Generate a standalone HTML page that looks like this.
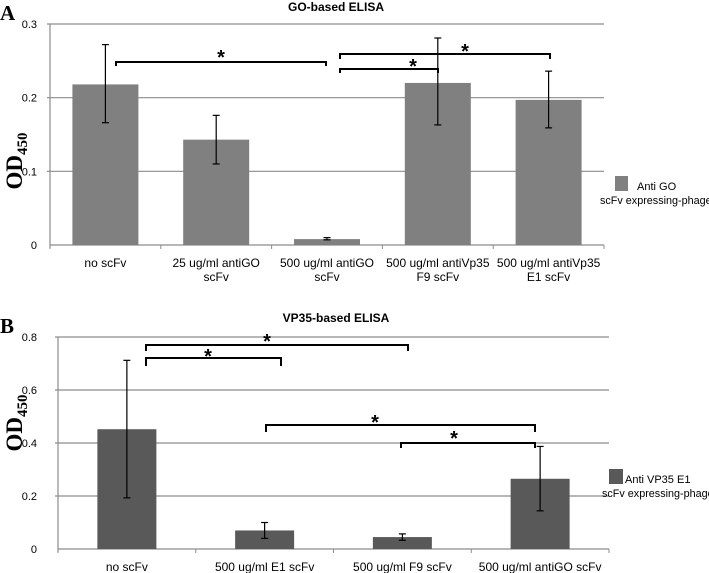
<!DOCTYPE html>
<html><head><meta charset="utf-8"><style>
html,body{margin:0;padding:0;background:#fff;overflow:hidden;}
svg{display:block;font-family:"Liberation Sans",sans-serif;}
</style></head><body>
<svg id="fig" width="709" height="573" viewBox="0 0 709 573"></svg>
<script>
// Panel A data
const catsA = [["no scFv"],["25 ug/ml antiGO","scFv"],["500 ug/ml antiGO","scFv"],["500 ug/ml antiVp35","F9 scFv"],["500 ug/ml antiVp35","E1 scFv"]];
const valsA = [0.218, 0.143, 0.008, 0.220, 0.197];
const errHiA = [0.272, 0.176, 0.010, 0.281, 0.236];
const errLoA = [0.166, 0.110, 0.007, 0.163, 0.159];
const ticksA = [0, 0.1, 0.2, 0.3];
const tickLabelsA = ["0","0.1","0.2","0.3"];
// Panel B data
const catsB = [["no scFv"],["500 ug/ml E1 scFv"],["500 ug/ml F9 scFv"],["500 ug/ml antiGO scFv"]];
const valsB = [0.452, 0.070, 0.045, 0.265];
const errHiB = [0.712, 0.100, 0.057, 0.387];
const errLoB = [0.193, 0.040, 0.033, 0.144];
const ticksB = [0, 0.2, 0.4, 0.6, 0.8];
const tickLabelsB = ["0","0.2","0.4","0.6","0.8"];

const NS="http://www.w3.org/2000/svg";
const svg=document.getElementById('fig');
function mk(tag,attrs,parent){const e=document.createElementNS(NS,tag);for(const k in attrs)e.setAttribute(k,attrs[k]);(parent||svg).appendChild(e);return e;}
function txt(s,attrs,parent){const e=mk('text',attrs,parent);e.textContent=s;return e;}

function panel(cfg){
  const g=mk('g',{});
  
  
  const {x0,x1,y0,yTop,vmax}=cfg;
  const ys=v=>y0-(v/vmax)*(y0-yTop);
  const n=cfg.cats.length, cw=(x1-x0)/n;
  const xc=i=>x0+cw*(i+0.5);
  cfg.ticks.forEach((t,i)=>{
    const y=ys(t);
    if(t>0){const l=mk('line',{x1:x0-3,x2:x1,y1:y,y2:y,stroke:'#8c8c8c','stroke-width':1.2},g);
      }
    const tl=txt(cfg.tickLabels[i],{x:37,y:y+4,'text-anchor':'end','font-size':11,fill:'#000'},g);
    
  });
  const ya=mk('line',{x1:x0,x2:x0,y1:yTop,y2:y0+3,stroke:'#8c8c8c','stroke-width':1.2},g);
  
  const xa=mk('line',{x1:x0,x2:x1,y1:y0,y2:y0,stroke:'#8c8c8c','stroke-width':1.2},g);
  
  for(let i=0;i<=n;i++){const t=mk('line',{x1:x0+cw*i,x2:x0+cw*i,y1:y0,y2:y0+4,stroke:'#8c8c8c','stroke-width':1},g);
    }
  cfg.vals.forEach((v,i)=>{
    const b=mk('rect',{x:xc(i)-cfg.bw/2,y:ys(v),width:cfg.bw,height:y0-ys(v),fill:cfg.color},g);
    
    const eg=mk('g',{stroke:'#000','stroke-width':1.2},g);
    
    const hi=ys(cfg.hi[i]),lo=ys(cfg.lo[i]),x=xc(i);
    mk('line',{x1:x,x2:x,y1:hi,y2:lo},eg);
    mk('line',{x1:x-3.5,x2:x+3.5,y1:hi,y2:hi},eg);
    mk('line',{x1:x-3.5,x2:x+3.5,y1:lo,y2:lo},eg);
    cfg.cats[i].forEach((s,k)=>{
      const c=txt(s,{x:x,y:cfg.labY+k*14,'text-anchor':'middle','font-size':12,fill:'#000'},g);
      
    });
  });
  const ti=txt(cfg.title,{x:336,y:cfg.titleY,'text-anchor':'middle','font-size':12,'font-weight':'bold',fill:'#000'},g);
  
  const pl=txt(cfg.letter,{x:0,y:cfg.letterY,'font-size':21,'font-weight':'bold','font-family':'Liberation Serif, serif',fill:'#000'},g);
  
  const yt=mk('text',{transform:`translate(${cfg.ytX},${cfg.ytY}) rotate(-90)`,'text-anchor':'middle','font-size':23,'font-weight':'bold','font-family':'Liberation Serif, serif',fill:'#000'},g);
  
  yt.appendChild(document.createTextNode('OD'));
  const sub=mk('tspan',{'font-size':15,dy:5},yt);sub.textContent='450';
  cfg.brackets.forEach((br,i)=>{
    const bg=mk('g',{},g);
    
    mk('path',{d:`M${br[0]},${br[3]} L${br[0]},${br[2]} L${br[1]},${br[2]} L${br[1]},${br[4]}`,fill:'none',stroke:'#000','stroke-width':2},bg);
    txt('*',{x:br[5],y:br[6]+11,'text-anchor':'middle','font-size':20,'font-weight':'bold',fill:'#000'},bg);
  });
  const lg=mk('g',{},g);
  
  mk('rect',{x:cfg.leg.sx,y:cfg.leg.sy,width:cfg.leg.sw,height:cfg.leg.sh,fill:cfg.color},lg);
  txt(cfg.leg.t1,{x:cfg.leg.tx,y:cfg.leg.ty,'font-size':11,fill:'#000'},lg);
  txt('scFv expressing-phage',{x:cfg.leg.t2x,y:cfg.leg.ty+14,'font-size':10.8,fill:'#000'},lg);
}

panel({name:'chart-a',title:'GO-based ELISA',titleY:11,letter:'A',letterY:20,x0:50,x1:604,y0:245,yTop:24,vmax:0.3,
  cats:catsA,vals:valsA,hi:errHiA,lo:errLoA,ticks:ticksA,tickLabels:tickLabelsA,bw:66,color:'#808080',labY:267,
  ytX:22,ytY:161,
  brackets:[[116,326,62,66,66,221,53],[340,438,69,73,73,413,62],[340,550,54,59,59,465,47]],
  leg:{sx:615,sy:176,sw:13,sh:15,t1:'Anti GO',tx:637,ty:190,t2x:600}});
panel({name:'chart-b',title:'VP35-based ELISA',titleY:322,letter:'B',letterY:333,x0:58,x1:609,y0:549,yTop:337,vmax:0.8,
  cats:catsB,vals:valsB,hi:errHiB,lo:errLoB,ticks:ticksB,tickLabels:tickLabelsB,bw:59,color:'#595959',labY:571,
  ytX:22,ytY:423,
  brackets:[[146,408,345,351,351,267,337],[146,281,358,366,366,208,352],[266,535,425,432,432,375,418],[401,535,443,448,448,454,434]],
  leg:{sx:609,sy:469,sw:14,sh:15,t1:'Anti VP35 E1',tx:625,ty:483,t2x:602}});
</script>
</body></html>
